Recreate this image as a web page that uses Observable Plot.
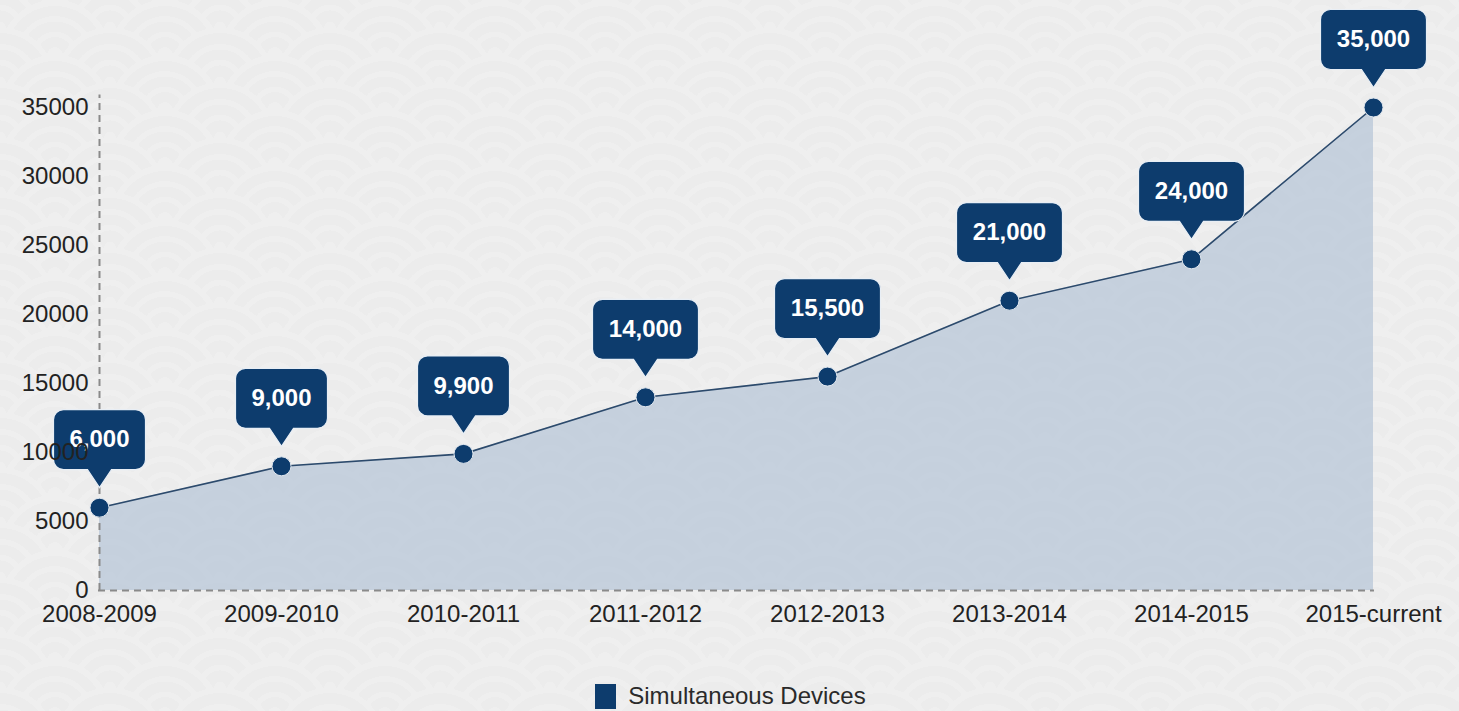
<!DOCTYPE html>
<html>
<head>
<meta charset="utf-8">
<script src="https://cdn.jsdelivr.net/npm/d3@7"></script>
<script src="https://cdn.jsdelivr.net/npm/@observablehq/plot@0.6"></script>
<style>
  html, body { margin: 0; padding: 0; }
  body {
    width: 1459px; height: 711px; overflow: hidden;
    --a: #ececec; --b: #efefef;
    background-color: var(--a);
    background-image:
      radial-gradient(circle at 100% 150%, var(--a) 24%, var(--b) 24%, var(--b) 28%, var(--a) 28%, var(--a) 36%, var(--b) 36%, var(--b) 40%, transparent 40%, transparent),
      radial-gradient(circle at 0 150%, var(--a) 24%, var(--b) 24%, var(--b) 28%, var(--a) 28%, var(--a) 36%, var(--b) 36%, var(--b) 40%, transparent 40%, transparent),
      radial-gradient(circle at 50% 100%, var(--b) 10%, var(--a) 10%, var(--a) 23%, var(--b) 23%, var(--b) 30%, var(--a) 30%, var(--a) 43%, var(--b) 43%, var(--b) 50%, var(--a) 50%, var(--a) 63%, var(--b) 63%, var(--b) 71%, transparent 71%, transparent),
      radial-gradient(circle at 100% 50%, var(--b) 5%, var(--a) 5%, var(--a) 15%, var(--b) 15%, var(--b) 20%, var(--a) 20%, var(--a) 29%, var(--b) 29%, var(--b) 34%, var(--a) 34%, var(--a) 44%, var(--b) 44%, var(--b) 49%, transparent 49%, transparent),
      radial-gradient(circle at 0 50%, var(--b) 5%, var(--a) 5%, var(--a) 15%, var(--b) 15%, var(--b) 20%, var(--a) 20%, var(--a) 29%, var(--b) 29%, var(--b) 34%, var(--a) 34%, var(--a) 44%, var(--b) 44%, var(--b) 49%, transparent 49%, transparent);
    background-size: 110px 55px;
    font-family: "Liberation Sans", Arial, Helvetica, sans-serif;
  }
  #legend {
    display: flex; justify-content: center; align-items: center;
    margin-top: 32px; font-size: 24px; color: #2a2a2a;
    padding-left: 2px;
  }
  #legend .sw { width: 21px; height: 25px; background: #0d3c6d; margin-right: 12px; }
</style>
</head>
<body>
<div id="chart"></div>
<div id="legend"><span class="sw"></span><span>Simultaneous Devices</span></div>
<script>
const periods = ["2008-2009","2009-2010","2010-2011","2011-2012","2012-2013","2013-2014","2014-2015","2015-current"];
const devices = [6000, 9000, 9900, 14000, 15500, 21000, 24000, 35000];
const labels = ["6,000","9,000","9,900","14,000","15,500","21,000","24,000","35,000"];
const yTicks = [0, 5000, 10000, 15000, 20000, 25000, 30000, 35000];

const data = periods.map((p, i) => ({period: p, value: devices[i], label: labels[i]}));

function callout(w) {
  return {
    draw(ctx) {
      const r = 10, x0 = -w / 2, x1 = w / 2, y0 = -98, y1 = -38;
      ctx.moveTo(x0 + r, y0);
      ctx.lineTo(x1 - r, y0);
      ctx.arcTo(x1, y0, x1, y0 + r, r);
      ctx.lineTo(x1, y1 - r);
      ctx.arcTo(x1, y1, x1 - r, y1, r);
      ctx.lineTo(12, y1);
      ctx.lineTo(0, -20);
      ctx.lineTo(-12, y1);
      ctx.lineTo(x0 + r, y1);
      ctx.arcTo(x0, y1, x0, y1 - r, r);
      ctx.lineTo(x0, y0 + r);
      ctx.arcTo(x0, y0, x0 + r, y0, r);
      ctx.closePath();
    }
  };
}

const navy = "#0d3c6d";

const chart = Plot.plot({
  width: 1459,
  height: 650,
  marginLeft: 98,
  marginRight: 85,
  marginTop: 107,
  marginBottom: 60,
  style: {background: "transparent", fontFamily: "'Liberation Sans', Arial, Helvetica, sans-serif"},
  x: {type: "point", domain: periods, padding: 0},
  y: {domain: [0, 35000]},
  marks: [
    Plot.areaY(data, {x: "period", y: "value", fill: "#c3cfdc", fillOpacity: 0.95}),
    Plot.ruleY([0], {stroke: "#8a8a8a", strokeWidth: 2, strokeDasharray: "7,5"}),
    Plot.ruleX([periods[0]], {y1: 0, y2: 35900, stroke: "#8a8a8a", strokeWidth: 2, strokeDasharray: "7,5"}),
    Plot.lineY(data, {x: "period", y: "value", stroke: "#2c4a6c", strokeWidth: 1.6}),
    Plot.dot(data, {x: "period", y: "value", r: 9.5, fill: navy, stroke: "#dfe6ee", strokeWidth: 1}),
    Plot.dot(data.filter(d => d.label.length <= 5), {x: "period", y: "value", symbol: callout(92), r: 10, fill: navy, stroke: "#e8eef5", strokeWidth: 1.2}),
    Plot.dot(data.filter(d => d.label.length > 5), {x: "period", y: "value", symbol: callout(106), r: 10, fill: navy, stroke: "#e8eef5", strokeWidth: 1.2}),
    Plot.text(data, {x: "period", y: "value", text: "label", dy: -68, fill: "white", fontSize: 24, fontWeight: "bold", lineAnchor: "middle", textAnchor: "middle"}),
    Plot.axisY({ticks: yTicks, tickFormat: d => String(d), tickSize: 0, tickPadding: 10, fontSize: 24, fill: "#222", label: null}),
    Plot.axisX({tickSize: 0, tickPadding: 14, fontSize: 24, fill: "#222", label: null})
  ]
});
document.getElementById("chart").appendChild(chart);
</script>
</body>
</html>
